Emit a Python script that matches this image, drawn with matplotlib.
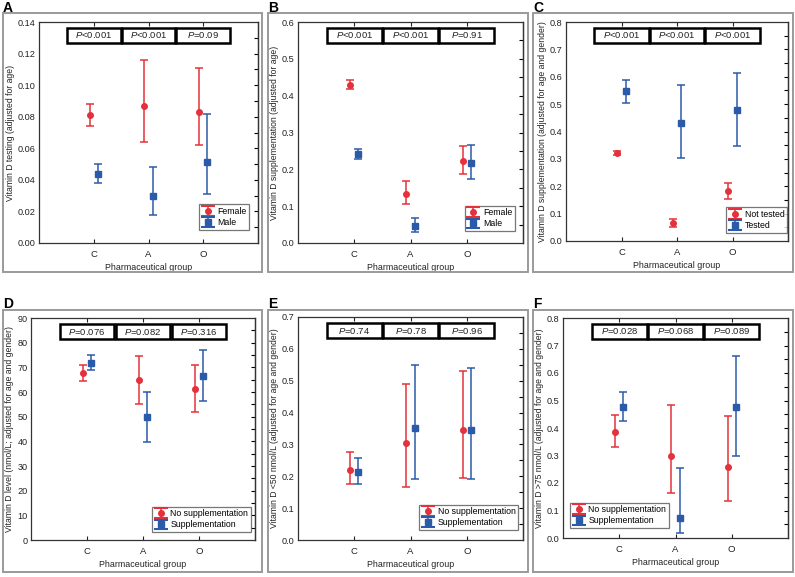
import numpy as np
import matplotlib
matplotlib.use("Agg")
import matplotlib.pyplot as plt
from matplotlib.patches import Rectangle
from matplotlib.lines import Line2D
from matplotlib.container import ErrorbarContainer
from matplotlib.legend_handler import HandlerErrorbar
import matplotlib.transforms as mtransforms

plt.rcParams['font.family'] = ['Liberation Sans', 'DejaVu Sans']
plt.rcParams['mathtext.fontset'] = 'custom'
plt.rcParams['mathtext.it'] = 'Liberation Sans:italic'
plt.rcParams['mathtext.rm'] = 'Liberation Sans'

groups = ['C', 'A', 'O']

# Panel A
a_f_mean = [0.081, 0.087, 0.083]
a_f_lo = [0.074, 0.064, 0.062]
a_f_hi = [0.088, 0.116, 0.111]
a_m_mean = [0.044, 0.030, 0.051]
a_m_lo = [0.038, 0.018, 0.031]
a_m_hi = [0.050, 0.048, 0.082]
a_p = ['<0.001', '<0.001', '=0.09']

# Panel B
b_f_mean = [0.430, 0.133, 0.222]
b_f_lo = [0.417, 0.105, 0.186]
b_f_hi = [0.443, 0.168, 0.262]
b_m_mean = [0.241, 0.047, 0.218]
b_m_lo = [0.229, 0.031, 0.174]
b_m_hi = [0.254, 0.068, 0.267]
b_p = ['<0.001', '<0.001', '=0.91']

# Panel C
c_n_mean = [0.322, 0.064, 0.181]
c_n_lo = [0.313, 0.052, 0.155]
c_n_hi = [0.330, 0.080, 0.211]
c_t_mean = [0.547, 0.432, 0.480]
c_t_lo = [0.505, 0.305, 0.348]
c_t_hi = [0.587, 0.570, 0.612]
c_p = ['<0.001', '<0.001', '<0.001']

# Panel D
d_n_mean = [67.6, 64.7, 61.4]
d_n_lo = [64.5, 55.2, 51.7]
d_n_hi = [71.0, 74.5, 71.0]
d_s_mean = [71.8, 50.0, 66.5]
d_s_lo = [69.0, 39.7, 56.4]
d_s_hi = [74.8, 60.2, 77.0]
d_p = ['=0.076', '=0.082', '=0.316']

# Panel E
e_n_mean = [0.221, 0.305, 0.345]
e_n_lo = [0.175, 0.165, 0.196]
e_n_hi = [0.275, 0.490, 0.530]
e_s_mean = [0.212, 0.352, 0.345]
e_s_lo = [0.175, 0.193, 0.190]
e_s_hi = [0.258, 0.550, 0.540]
e_p = ['=0.74', '=0.78', '=0.96']

# Panel F
f_n_mean = [0.387, 0.300, 0.260]
f_n_lo = [0.330, 0.163, 0.134]
f_n_hi = [0.447, 0.484, 0.442]
f_s_mean = [0.478, 0.073, 0.477]
f_s_lo = [0.427, 0.018, 0.298]
f_s_hi = [0.530, 0.253, 0.661]
f_p = ['=0.028', '=0.068', '=0.089']

RED = '#E4313B'
BLUE = '#2B5BA8'
W, H = 795, 577

fig = plt.figure(figsize=(W / 100, H / 100), dpi=100)


def px_axes(l, t, r, b):
    return fig.add_axes([l / W, 1 - b / H, (r - l) / W, (b - t) / H])


def frame(l, t, r, b):
    fig.patches.append(Rectangle((l / W, 1 - b / H), (r - l) / W, (b - t) / H,
                                 transform=fig.transFigure, fill=False,
                                 edgecolor='#9a9a9a', lw=1.4))


def widen_caps(legend_handle, orig_handle):
    legend_handle.update_from(orig_handle)
    if isinstance(legend_handle, Line2D) and legend_handle.get_marker() == '_':
        legend_handle.set_markersize(10)
        legend_handle.set_markeredgewidth(1.5)


def panel(ax, letter_xy, letter, s1, s2, labels, ylim, yticks, yfmt, ylabel,
          pvals, leg_loc, leg_anchor):
    x = np.arange(1, 4)
    off = 0.075
    for (m, lo, hi), col, mk, ms, dx, lab in [
            (s1, RED, 'o', 4, -off, labels[0]),
            (s2, BLUE, 's', 4, off, labels[1])]:
        m = np.array(m); lo = np.array(lo); hi = np.array(hi)
        ax.errorbar(x + dx, m, yerr=[m - lo, hi - m], fmt=mk, color=col,
                    ms=ms, elinewidth=1.1, capsize=2.8, capthick=1.1,
                    label=lab)
    ax.set_xlim(0, 4)
    ax.set_ylim(*ylim)
    ax.set_xticks(x)
    ax.set_xticklabels(groups)
    ax.set_yticks(yticks)
    ax.set_yticklabels([yfmt.format(v) for v in yticks])
    ax.tick_params(axis='x', direction='in', length=3, width=0.8, top=True,
                   labelsize=6.8, pad=5, colors='#222222')
    ax.tick_params(axis='y', direction='in', length=0, labelsize=6.6, pad=2.5,
                   colors='#222222')
    step = yticks[1] - yticks[0]
    rt = np.arange(ylim[0] + step / 2, ylim[1], step / 2)
    ax2 = ax.secondary_yaxis('right')
    ax2.set_yticks(rt)
    ax2.tick_params(direction='in', length=3, width=0.8, labelright=False)
    for sp in list(ax.spines.values()) + [ax2.spines['right']]:
        sp.set_linewidth(0.9)
        sp.set_color('#333333')
    ax.set_xlabel('Pharmaceutical group', fontsize=6.4, labelpad=3,
                  color='#222222')
    ax.set_ylabel(ylabel, fontsize=6.2, labelpad=2, color='#222222')
    trans = mtransforms.blended_transform_factory(ax.transData, ax.transAxes)
    for i, p in enumerate(pvals):
        cx = i + 1
        ax.add_patch(Rectangle((cx - 0.49, 0.905), 0.98, 0.068,
                               transform=trans, fill=False, edgecolor='black',
                               lw=1.8, clip_on=False))
        ax.text(cx, 0.939, r'$\it{P}$' + p, transform=trans, ha='center',
                va='center', fontsize=6.8, color='#222222')
    leg = ax.legend(loc=leg_loc, bbox_to_anchor=leg_anchor, borderaxespad=0,
                    fontsize=6.3, frameon=True, fancybox=False,
                    handlelength=1.4, handletextpad=0.4, borderpad=0.3,
                    labelspacing=0.25,
                    handler_map={ErrorbarContainer: HandlerErrorbar(
                        yerr_size=0.55, update_func=widen_caps)})
    leg.get_frame().set_edgecolor('#555555')
    leg.get_frame().set_linewidth(0.9)
    fig.text(letter_xy[0] / W, 1 - letter_xy[1] / H, letter, fontsize=10,
             fontweight='bold', ha='left', va='top')


for (l, t, r, b) in [(3, 13, 262, 272), (268, 13, 528, 272), (533, 13, 793, 272),
                     (3, 310, 262, 572), (268, 310, 528, 572), (533, 310, 793, 572)]:
    frame(l, t, r, b)

axA = px_axes(39, 22, 258, 243)
panel(axA, (3, 1), 'A', (a_f_mean, a_f_lo, a_f_hi), (a_m_mean, a_m_lo, a_m_hi),
      ['Female', 'Male'], (0, 0.14), np.arange(0, 0.141, 0.02), '{:.2f}',
      'Vitamin D testing (adjusted for age)', a_p, 'lower right', (0.96, 0.06))

axB = px_axes(298, 22, 523, 243)
panel(axB, (268, 1), 'B', (b_f_mean, b_f_lo, b_f_hi), (b_m_mean, b_m_lo, b_m_hi),
      ['Female', 'Male'], (0, 0.6), np.arange(0, 0.61, 0.1), '{:.1f}',
      'Vitamin D supplementation (adjusted for age)', b_p, 'lower right',
      (0.964, 0.054))

axC = px_axes(566, 22, 788, 241)
panel(axC, (533, 1), 'C', (c_n_mean, c_n_lo, c_n_hi), (c_t_mean, c_t_lo, c_t_hi),
      ['Not tested', 'Tested'], (0, 0.8), np.arange(0, 0.81, 0.1), '{:.1f}',
      'Vitamin D supplementation (adjusted for age and gender)', c_p,
      'lower right', (0.995, 0.037))

axD = px_axes(31, 318, 255, 540)
panel(axD, (3, 297), 'D', (d_n_mean, d_n_lo, d_n_hi), (d_s_mean, d_s_lo, d_s_hi),
      ['No supplementation', 'Supplementation'], (0, 90),
      np.arange(0, 91, 10), '{:.0f}',
      'Vitamin D level (nmol/L; adjusted for age and gender)', d_p,
      'lower right', (0.982, 0.036))

axE = px_axes(298, 317, 523, 540)
panel(axE, (268, 297), 'E', (e_n_mean, e_n_lo, e_n_hi), (e_s_mean, e_s_lo, e_s_hi),
      ['No supplementation', 'Supplementation'], (0, 0.7),
      np.arange(0, 0.71, 0.1), '{:.1f}',
      'Vitamin D <50 nmol/L (adjusted for age and gender)', e_p,
      'lower right', (0.978, 0.045))

axF = px_axes(563, 318, 788, 538)
panel(axF, (533, 297), 'F', (f_n_mean, f_n_lo, f_n_hi), (f_s_mean, f_s_lo, f_s_hi),
      ['No supplementation', 'Supplementation'], (0, 0.8),
      np.arange(0, 0.81, 0.1), '{:.1f}',
      'Vitamin D >75 nmol/L (adjusted for age and gender)', f_p,
      'lower left', (0.031, 0.045))

fig.savefig('out.png', dpi=100)
